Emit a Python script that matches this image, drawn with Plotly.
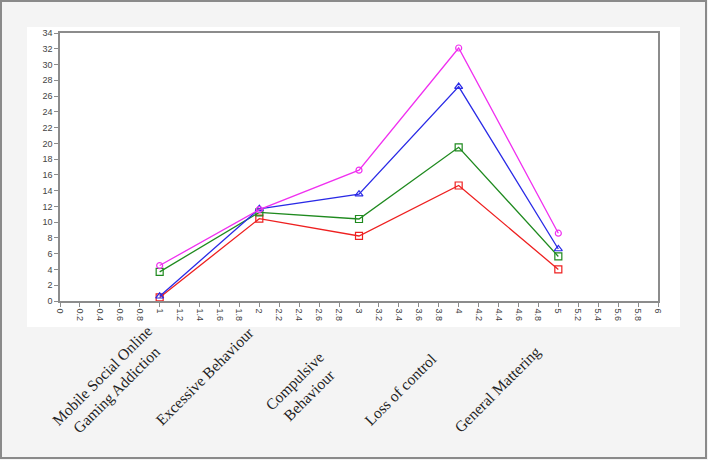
import plotly.graph_objects as go

x_pos = [1, 2, 3, 4, 5]
categories = ["Mobile Social Online<br>Gaming Addiction", "Excessive Behaviour",
              "Compulsive<br>Behaviour", "Loss of control", "General Mattering"]
magenta_vals = [4.5, 11.6, 16.6, 32.1, 8.6]
blue_vals = [0.6, 11.7, 13.55, 27.2, 6.6]
green_vals = [3.7, 11.25, 10.4, 19.5, 5.65]
red_vals = [0.45, 10.45, 8.25, 14.65, 4.0]
y_ticks = list(range(0, 35, 2))
x_ticks = [round(i * 0.2, 1) for i in range(31)]
x_tick_text = [("%g" % v) for v in x_ticks]

W, H = 708, 460
L, R, T, B = 60, 50, 33, 159
pw, ph = W - L - R, H - T - B


def px(xp):
    return (xp - L) / pw


def py(yp):
    return (H - B - yp) / ph


fig = go.Figure()
series = [
    (red_vals, "#ee2020", "square-open", 7),
    (green_vals, "#1f8a1f", "square-open", 7),
    (blue_vals, "#2a2ae6", "triangle-up-open", 7),
    (magenta_vals, "#f030f0", "circle-open", 6),
]
for vals, col, sym, sz in series:
    fig.add_trace(go.Scatter(
        x=x_pos, y=vals, mode="lines+markers",
        line=dict(color=col, width=1.3),
        marker=dict(symbol=sym, size=sz, color=col, line=dict(color=col, width=1.2)),
        showlegend=False, cliponaxis=False))

shapes = [
    # outer frame
    dict(type="rect", xref="paper", yref="paper", layer="below",
         x0=px(1), x1=px(706), y0=py(458), y1=py(1),
         line=dict(color="#8a8a8a", width=2), fillcolor="#f4f4f4"),
    # white panel
    dict(type="rect", xref="paper", yref="paper", layer="below",
         x0=px(27), x1=px(680), y0=py(327), y1=py(27),
         line=dict(width=0), fillcolor="#ffffff"),
]

label_pos = [(109, 382), (204, 376), (301, 388), (400, 389), (497, 389)]
annotations = []
for text, (cx, cy) in zip(categories, label_pos):
    annotations.append(dict(
        text=text, xref="paper", yref="paper", x=px(cx), y=py(cy),
        xanchor="center", yanchor="middle", showarrow=False, textangle=-45,
        font=dict(family="Liberation Serif", size=15.5, color="#222222"),
        align="center"))

fig.update_layout(
    width=W, height=H,
    margin=dict(l=L, r=R, t=T, b=B),
    paper_bgcolor="#f4f4f4", plot_bgcolor="#ffffff",
    shapes=shapes, annotations=annotations,
    font=dict(family="Liberation Sans", size=9, color="#333333"),
    xaxis=dict(range=[0, 6], tickvals=x_ticks, ticktext=x_tick_text, tickangle=90,
               showgrid=False, zeroline=False, showline=True, mirror=True,
               linecolor="#8c8c8c", linewidth=1.5, ticks="outside", ticklen=4,
               tickcolor="#8c8c8c", tickfont=dict(size=9, color="#444444")),
    yaxis=dict(range=[0, 34], tickvals=y_ticks, showgrid=False, zeroline=False,
               showline=True, mirror=True, linecolor="#8c8c8c", linewidth=1.5,
               ticks="outside", ticklen=4, tickcolor="#8c8c8c",
               tickfont=dict(size=9, color="#444444")),
)

fig.write_html("out.html", config={"displayModeBar": False},
               post_script="document.body.style.margin='0';document.body.style.overflow='hidden';")
